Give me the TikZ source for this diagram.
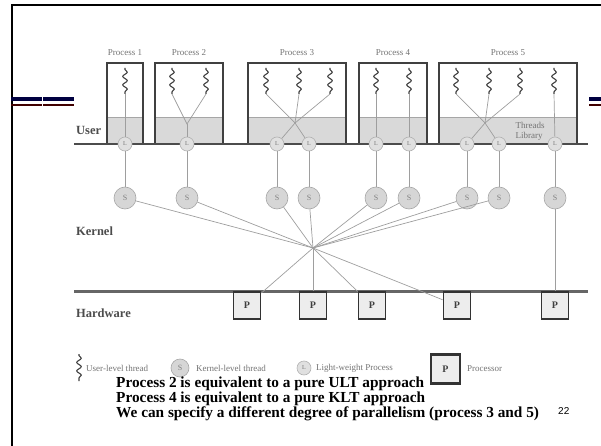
\documentclass[tikz,border=0pt]{standalone}
\usepackage{fontspec}
\setmainfont{Liberation Serif}
\newfontfamily\slidenumfont{Liberation Sans}
\usetikzlibrary{decorations.pathmorphing}
\begin{document}
\begin{tikzpicture}[x = 1pt, y = -1pt,
  uthread/.style = {draw = black!75, line width = 1.1pt, decorate, decoration = {snake, amplitude = 2.3pt, segment length = 8.5pt, pre length = 1.5pt, post length = 1.5pt}},
  link/.style = {draw = black!38, line width = 0.7pt},
  lwp/.style = {circle, draw = black!30, fill = black!12, line width = 0.6pt, minimum size = 14pt, inner sep = 0pt, font = \fontsize{6}{6}\selectfont, text = black!55},
  kthread/.style = {circle, draw = black!35, fill = black!16, line width = 0.6pt, minimum size = 22pt, inner sep = 0pt, font = \fontsize{8}{8}\selectfont, text = black!50},
  cpu/.style = {draw = black!80, fill = black!7, line width = 1.8pt, minimum width = 27pt, minimum height = 27pt, inner sep = 0pt, font = \bfseries\fontsize{10}{10}\selectfont, text = black!75},
  layer/.style = {anchor = west, inner sep = 0pt, font = \bfseries\fontsize{12.5}{12.5}\selectfont, text = black!70},
  caption/.style = {inner sep = 0pt, font = \fontsize{9}{9}\selectfont, text = black!55},
  note/.style = {anchor = base west, inner sep = 0pt, font = \bfseries\fontsize{15.3}{15.3}\selectfont}]
\useasboundingbox (0,0) rectangle (601,446);
\definecolor{barblue}{rgb}{0,0,0.25}
\definecolor{barred}{rgb}{0.25,0,0}
\draw[line width = 2pt] (12,446) -- (12,5) -- (601,5);
\foreach \a/\b in {11/42, 43/74, 589/601} {
  \draw[barblue, line width = 4pt] (\a,99) -- (\b,99);
  \draw[barred, line width = 1.2pt] (\a,105) -- (\b,105);
}
\foreach \l/\r [count = \n] in {107/143, 155/223, 248/346, 359/427, 439/577} {
  \fill[black!15] (\l,117) rectangle (\r,144);
  \draw[black!35, line width = 0.6pt] (\l,117) -- (\r,117);
  \draw[black!75, line width = 1.6pt] (\l,144) -- (\l,63) -- (\r,63) -- (\r,144);
  \node[caption] (proc\n) at ({(\l+\r)/2},53) {Process \n};
}
\draw[black!70, line width = 2.2pt] (74,144) -- (588,144);
\draw[black!60, line width = 3pt] (74,291) -- (588,291);
\foreach \x [count = \i] in {125,172,206,266,299,330,376,409,456,489,520,554} {
  \coordinate (ut\i) at (\x,94);
  \draw[uthread] (\x,68) -- (ut\i);
}
\coordinate (lib2) at (187,124);
\coordinate (lib3) at (295,123);
\coordinate (lib5) at (485,123);
\coordinate (hub) at (313,248);
\foreach \x [count = \i] in {125,187,277,309,376,409,467,499,555} {
  \node[kthread] (kt\i) at (\x,198) {S};
  \node[lwp] (lwp\i) at (\x,144) {L};
}
\draw[link] (ut1) -- (lwp1);
\draw[link] (ut2) -- (lib2) -- (ut3);
\draw[link] (lib2) -- (lwp2);
\foreach \i in {4,5,6} \draw[link] (ut\i) -- (lib3);
\draw[link] (lwp3) -- (lib3) -- (lwp4);
\draw[link] (ut7) -- (lwp5);
\draw[link] (ut8) -- (lwp6);
\foreach \i in {9,10,11} \draw[link] (ut\i) -- (lib5);
\draw[link] (lwp7) -- (lib5) -- (lwp8);
\draw[link] (ut12) -- (lwp9);
\foreach \i in {1,...,9} \draw[link] (lwp\i) -- (kt\i);
\foreach \i in {1,...,8} \draw[link] (kt\i) -- (hub);
\foreach \x [count = \i] in {247,313,372,457,555} \node[cpu] (cpu\i) at (\x,305.5) {P};
\foreach \i in {1,...,4} \draw[link] (hub) -- (cpu\i);
\draw[link] (kt9) -- (cpu5);
\node[layer] (userlbl) at (76,130) {User};
\node[layer] (kernellbl) at (76,231) {Kernel};
\node[layer] (hwlbl) at (76,313) {Hardware};
\node[caption, align = left, font = \fontsize{9}{10}\selectfont] (thlib) at (530,131) {Threads\\Library};
\coordinate (keyut) at (79,381);
\draw[uthread] (79,354) -- (keyut);
\node[caption, anchor = west] (keyuttext) at (86,368) {User-level thread};
\node[kthread, minimum size = 18pt] (keykt) at (180,368) {S};
\node[caption, anchor = west] (keykttext) at (196,368) {Kernel-level thread};
\node[lwp] (keylwp) at (304,368) {L};
\node[caption, anchor = west] (keylwptext) at (316,368) {Light-weight Process};
\node[cpu, minimum width = 29pt, minimum height = 29pt, line width = 2.4pt] (keycpu) at (445.5,369) {P};
\node[caption, anchor = west] (keycputext) at (467,369) {Processor};
\node[note] (note1) at (116,387) {Process 2 is equivalent to a pure ULT approach};
\node[note] (note2) at (116,402) {Process 4 is equivalent to a pure KLT approach};
\node[note] (note3) at (116,417) {We can specify a different degree of parallelism (process 3 and 5)};
\node[anchor = base west, inner sep = 0pt, font = \slidenumfont\fontsize{10}{10}\selectfont] (slidenum) at (558,414) {22};
\end{tikzpicture}
\end{document}
